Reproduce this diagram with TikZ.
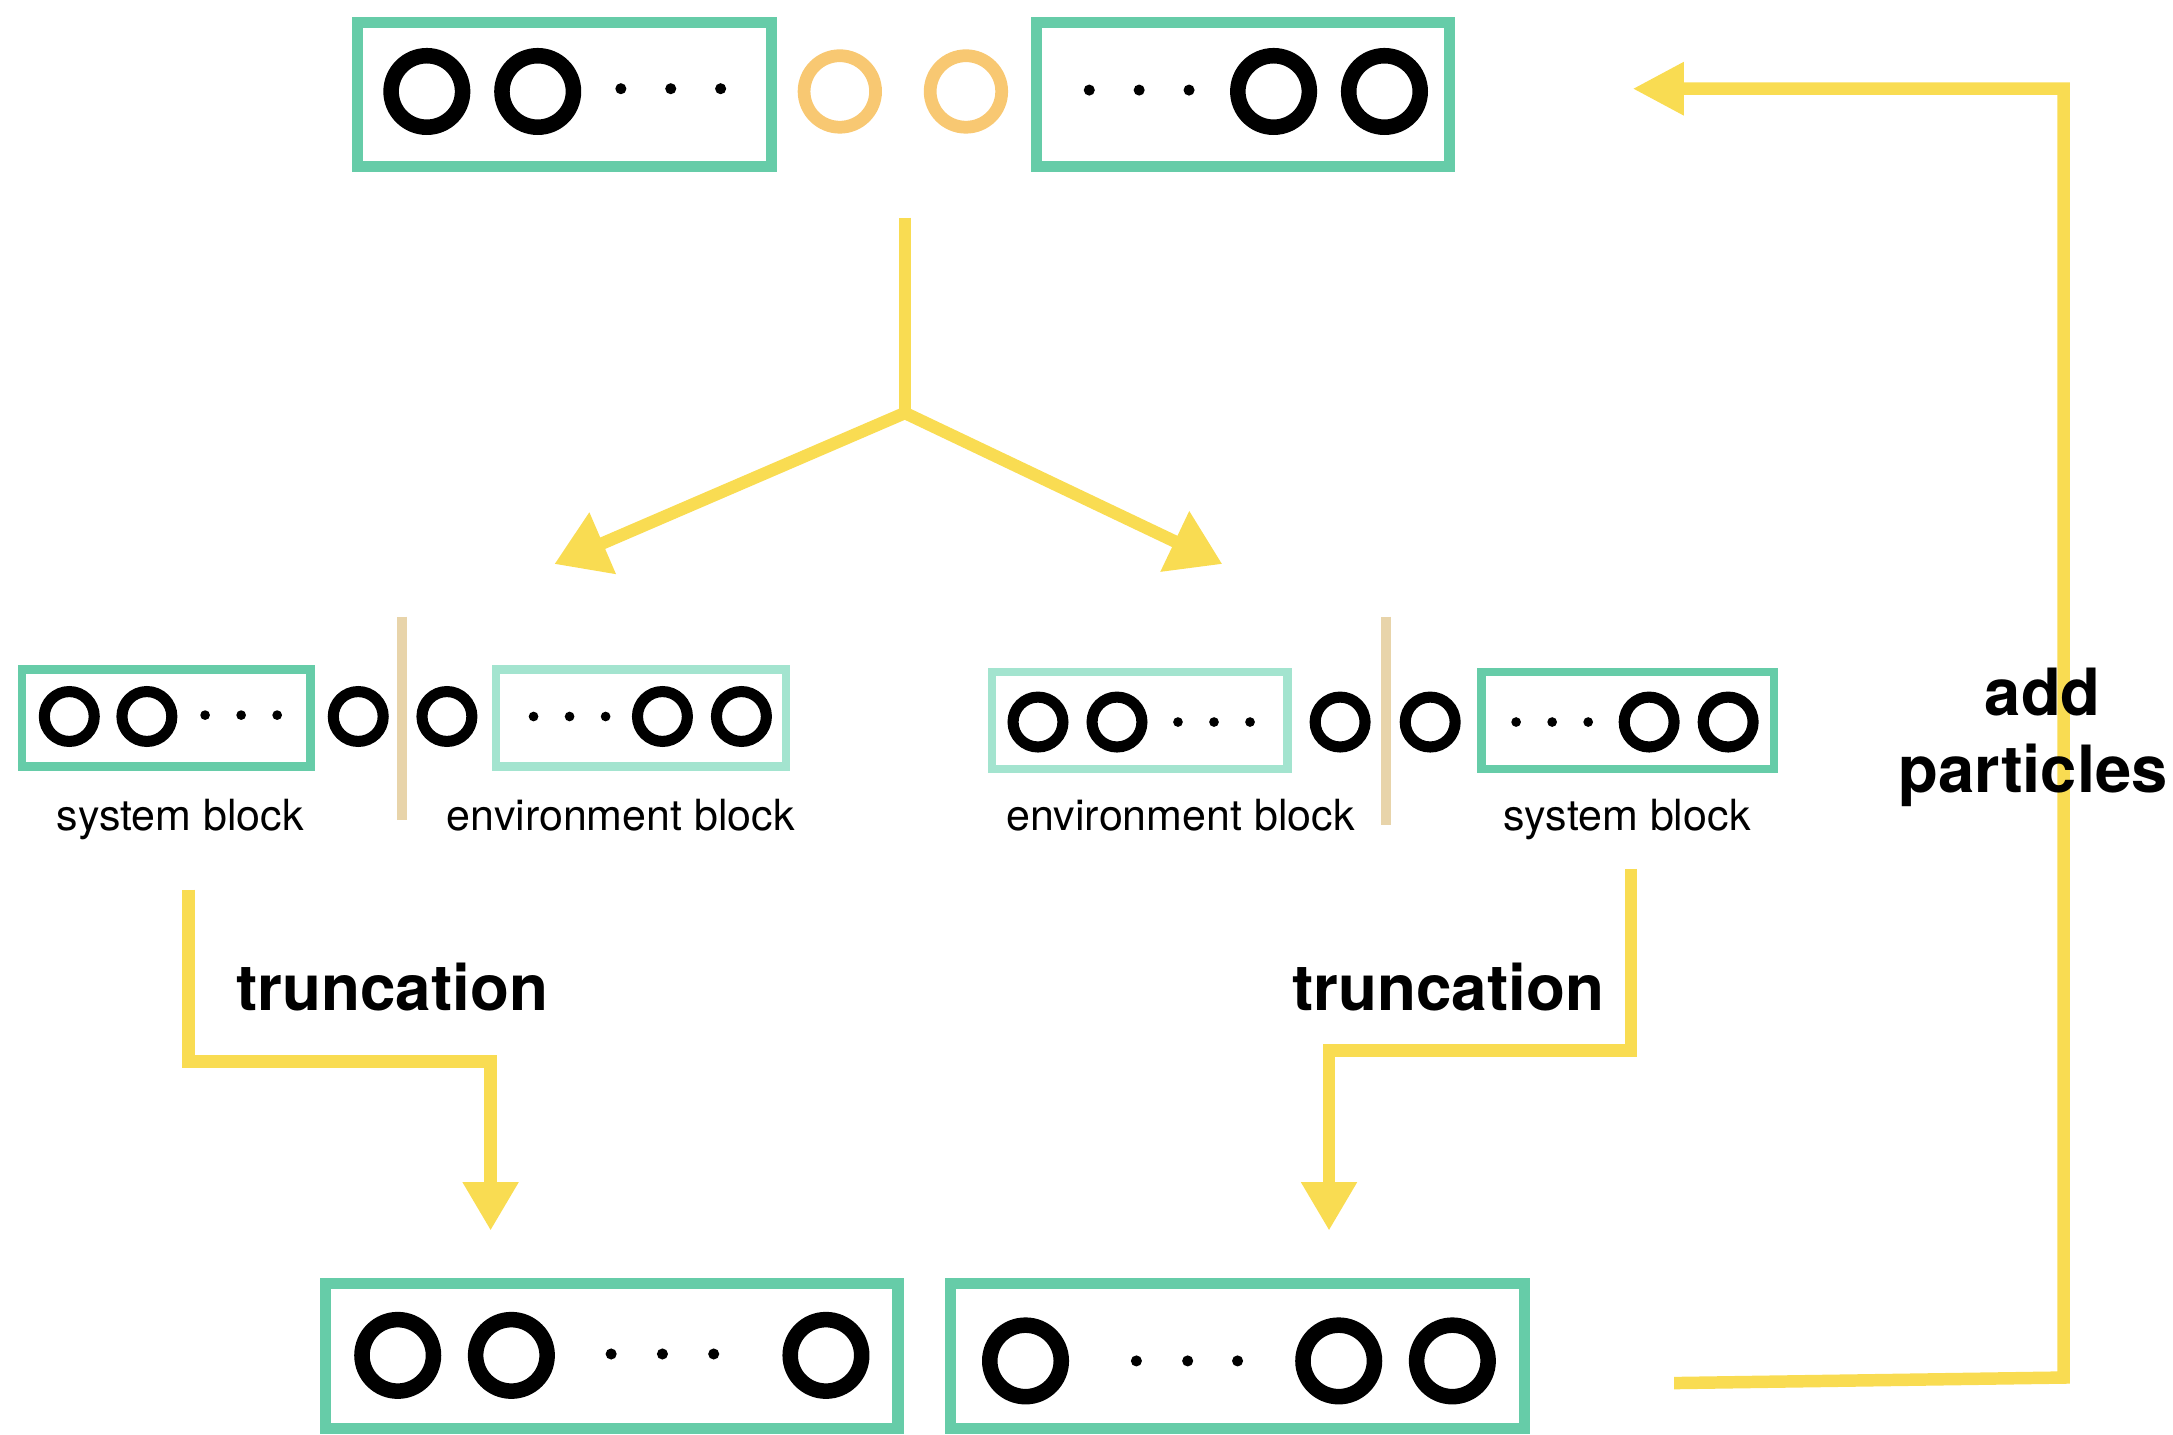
\documentclass[tikz,border=0pt]{standalone}
\usepackage{fontspec}
\setmainfont{TeX Gyre Heros}
\usetikzlibrary{arrows.meta}
\definecolor{gbox}{HTML}{66CCA8}
\definecolor{lbox}{HTML}{A3E4CF}
\definecolor{ylw}{HTML}{F9DC52}
\definecolor{orng}{HTML}{F8C872}
\definecolor{tan}{HTML}{E8D4AA}
\tikzset{
  darkbox/.style={draw=gbox, rectangle, inner sep=0pt},
  lightbox/.style={draw=lbox, rectangle, inner sep=0pt},
  bigp/.style={circle, draw=black, line width=5.6pt, minimum size=25.8pt, inner sep=0pt},
  orp/.style={circle, draw=orng, line width=4.6pt, minimum size=25.8pt, inner sep=0pt},
  midp/.style={circle, draw=black, line width=4pt, minimum size=18pt, inner sep=0pt},
  botp/.style={circle, draw=black, line width=5.6pt, minimum size=25.8pt, inner sep=0pt},
  dotp/.style={circle, fill=black, minimum size=4pt, inner sep=0pt},
  lbl/.style={font=\fontsize{15.5pt}{18pt}\selectfont, inner sep=0pt, anchor=base},
  bold/.style={font=\fontsize{23pt}{27pt}\selectfont\bfseries, inner sep=0pt, align=center},
  yline/.style={draw=ylw, line width=4.5pt},
  sepline/.style={draw=tan, line width=3.8pt},
}
\begin{document}
\begin{tikzpicture}[x=0.5pt, y=-0.5pt]
\useasboundingbox (0,0) rectangle (1568,1035);
% ---------- top row ----------
\node[darkbox, line width=4pt, minimum width=149.5pt, minimum height=52pt] (tl) at (407.5,68) {};
\node[darkbox, line width=4pt, minimum width=149pt, minimum height=52pt] (tr) at (897,68) {};
\node[bigp] (t1) at (308,66) {};
\node[bigp] (t2) at (388,66) {};
\foreach \x [count=\i] in {448,484,520} \node[dotp] (td\i) at (\x,64) {};
\node[orp] (o1) at (606,66) {};
\node[orp] (o2) at (697,66) {};
\foreach \x [count=\i] in {786,822,858} \node[dotp] (te\i) at (\x,65) {};
\node[bigp] (t3) at (919,66) {};
\node[bigp] (t4) at (999,66) {};
% ---------- middle left ----------
\node[darkbox, line width=3pt, minimum width=104pt, minimum height=35pt] (ls) at (120,518) {};
\node[lightbox, line width=3pt, minimum width=104.5pt, minimum height=35pt] (le) at (462.5,518) {};
\node[midp] (l1) at (50,517) {};
\node[midp] (l2) at (106,517) {};
\foreach \x [count=\i] in {148,174,200} \node[dotp, minimum size=3.5pt] (ld\i) at (\x,516) {};
\node[midp] (l3) at (258.5,517) {};
\coordinate (lsepT) at (290,445); \coordinate (lsepB) at (290,592);
\draw[sepline] (lsepT) -- (lsepB);
\node[midp] (l4) at (322.5,517) {};
\foreach \x [count=\i] in {385,411,437} \node[dotp, minimum size=3.5pt] (le\i) at (\x,517) {};
\node[midp] (l5) at (478,517) {};
\node[midp] (l6) at (535,517) {};
\node[lbl] (lsl) at (130,599) {system block};
\node[lbl] (lel) at (448,599) {environment block};
% ---------- middle right ----------
\node[lightbox, line width=3pt, minimum width=106.5pt, minimum height=35pt] (re) at (822.5,520) {};
\node[darkbox, line width=3pt, minimum width=105.5pt, minimum height=35pt] (rs) at (1174.5,520) {};
\node[midp] (r1) at (749,521) {};
\node[midp] (r2) at (806,521) {};
\foreach \x [count=\i] in {850,876,902} \node[dotp, minimum size=3.5pt] (rd\i) at (\x,521) {};
\node[midp] (r3) at (967,521) {};
\coordinate (rsepT) at (1000,445); \coordinate (rsepB) at (1000,595);
\draw[sepline] (rsepT) -- (rsepB);
\node[midp] (r4) at (1032,521) {};
\foreach \x [count=\i] in {1094,1120,1146} \node[dotp, minimum size=3.5pt] (re\i) at (\x,521) {};
\node[midp] (r5) at (1190,521) {};
\node[midp] (r6) at (1247,521) {};
\node[lbl] (rel) at (852,599) {environment block};
\node[lbl] (rsl) at (1174,599) {system block};
% ---------- bottom row ----------
\node[darkbox, line width=4pt, minimum width=206.5pt, minimum height=52.5pt] (bl) at (441.5,978.5) {};
\node[darkbox, line width=4pt, minimum width=207pt, minimum height=52.5pt] (br) at (893,978.5) {};
\node[botp] (b1) at (287,978) {};
\node[botp] (b2) at (369,978) {};
\foreach \x [count=\i] in {441,478,515} \node[dotp] (bd\i) at (\x,977) {};
\node[botp] (b3) at (596,978) {};
\node[botp] (b4) at (740,982) {};
\foreach \x [count=\i] in {820,857,893} \node[dotp] (be\i) at (\x,982) {};
\node[botp] (b5) at (966,982) {};
\node[botp] (b6) at (1048,982) {};
% ---------- split connector ----------
\coordinate (stem) at (653,157);
\coordinate (split) at (653,298);
\coordinate (ltip) at (400,407);
\coordinate (rtip) at (882,407);
\draw[yline] (stem) -- (split);
\draw[yline, -{Triangle[length=19pt,width=23pt]}] (split) -- (ltip);
\draw[yline, -{Triangle[length=19pt,width=23pt]}] (split) -- (rtip);
% ---------- truncation connectors ----------
\coordinate (ltA) at (136,642);
\coordinate (ltB) at (136,766);
\coordinate (ltC) at (354,766);
\coordinate (ltD) at (354,888);
\draw[yline, -{Triangle[length=17.5pt,width=19pt]}] (ltA) -- (ltB) -- (ltC) -- (ltD);
\node[bold] (ltl) at (283,712) {truncation};
\coordinate (rtA) at (1177,627);
\coordinate (rtB) at (1177,758);
\coordinate (rtC) at (959,758);
\coordinate (rtD) at (959,888);
\draw[yline, -{Triangle[length=17.5pt,width=19pt]}] (rtA) -- (rtB) -- (rtC) -- (rtD);
\node[bold] (rtl) at (1045,712) {truncation};
% ---------- add particles loop ----------
\coordinate (apA) at (1208,998);
\coordinate (apB) at (1489,994);
\coordinate (apC) at (1489,64);
\coordinate (apD) at (1178,64);
\draw[yline, -{Triangle[length=18.5pt,width=18pt]}] (apA) -- (apB) -- (apC) -- (apD);
\node[bold, font=\fontsize{23.5pt}{27.5pt}\selectfont\bfseries] (apl) at (1467,532) {\hspace*{7pt}add\\particles};
\end{tikzpicture}
\end{document}
